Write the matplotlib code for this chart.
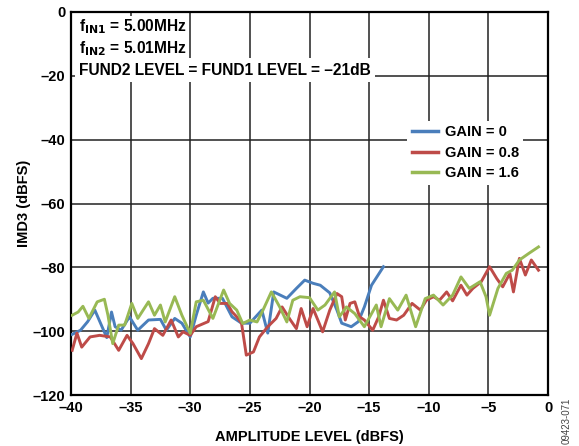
import matplotlib
matplotlib.use("Agg")
import matplotlib.pyplot as plt

plt.rcParams['font.family'] = ['Liberation Sans', 'DejaVu Sans']

# GAIN = 0
gain0_x = [-39.9, -39.2, -38.6, -38.0, -37.0, -36.6, -36.3, -35.8, -35.1, -34.4, -33.5, -32.5,
           -32.0, -31.3, -30.7, -30.0, -29.5, -28.9, -28.5, -28.1, -27.3, -26.5, -25.7, -25.0,
           -24.0, -23.5, -23.0, -21.9, -21.1, -20.4, -19.7, -19.1, -18.3, -17.7, -17.3, -16.5,
           -15.9, -15.4, -14.8, -13.8]
gain0_y = [-101.0, -99.7, -97.0, -93.4, -102.0, -94.0, -98.6, -99.7, -95.5, -99.7, -96.5, -96.3,
           -99.7, -96.0, -97.5, -101.8, -95.0, -87.7, -91.2, -89.7, -89.7, -95.5, -97.5, -97.5,
           -93.4, -100.6, -87.7, -89.7, -86.6, -84.0, -85.0, -85.6, -88.0, -93.4, -97.5, -98.6,
           -97.0, -92.4, -85.6, -79.8]

# GAIN = 0.8
gain08_x = [-39.9, -39.5, -39.1, -38.4, -37.6, -36.7, -36.0, -35.3, -34.8, -34.1, -33.5, -33.0,
            -32.3, -31.6, -31.0, -30.6, -30.0, -29.5, -28.5, -27.9, -27.5, -26.9, -26.5, -26.1,
            -25.7, -25.3, -24.7, -24.2, -23.5, -22.8, -22.3, -21.6, -21.1, -20.7, -20.2, -19.7,
            -19.3, -18.9, -18.3, -17.7, -17.3, -17.0, -16.6, -16.2, -15.8, -15.4, -14.7, -14.2,
            -13.8, -13.3, -12.7, -12.1, -11.4, -10.7, -10.2, -9.6, -9.1, -8.5, -8.0, -7.3,
            -6.8, -6.3, -5.6, -4.9, -4.3, -3.8, -3.2, -2.9, -2.4, -1.9, -1.4, -0.8]
gain08_y = [-106.0, -100.6, -105.0, -101.8, -101.3, -101.8, -106.0, -101.3, -103.9, -108.6, -103.9, -99.2,
            -101.3, -96.5, -101.8, -100.2, -101.3, -98.6, -97.0, -89.2, -91.3, -91.3, -93.9, -95.5,
            -97.5, -107.5, -106.5, -101.8, -98.6, -96.0, -92.4, -96.5, -99.2, -92.9, -98.6, -92.9,
            -96.5, -100.2, -93.4, -88.2, -89.2, -96.5, -91.3, -90.8, -95.5, -96.5, -99.7, -95.5,
            -90.3, -96.0, -96.5, -95.0, -91.3, -93.4, -90.3, -89.2, -90.3, -87.7, -90.5, -85.6,
            -88.7, -86.6, -84.5, -79.8, -83.5, -86.1, -81.9, -87.7, -77.2, -82.4, -77.7, -80.9]

# GAIN = 1.6
gain16_x = [-39.9, -39.4, -39.0, -38.5, -37.8, -37.2, -36.9, -36.5, -36.0, -35.5, -34.9, -34.4,
            -33.5, -33.0, -32.5, -32.1, -31.3, -30.7, -30.0, -29.5, -28.9, -28.1, -27.2, -26.7,
            -26.1, -25.6, -25.0, -24.4, -23.9, -23.2, -22.5, -21.9, -21.4, -20.8, -20.0, -19.3,
            -18.7, -17.9, -17.5, -16.9, -16.2, -15.4, -14.4, -14.0, -13.3, -12.6, -11.9, -11.1,
            -10.3, -9.6, -8.8, -8.0, -7.3, -6.6, -5.7, -5.2, -4.9, -4.2, -3.5, -3.0,
            -2.4, -1.6, -0.8]
gain16_y = [-95.0, -94.0, -92.2, -96.0, -90.8, -90.0, -95.0, -103.9, -98.1, -98.1, -91.3, -96.0,
            -90.8, -95.0, -91.8, -97.1, -89.2, -95.0, -100.7, -90.8, -90.3, -96.0, -87.1, -91.3,
            -93.4, -97.6, -96.5, -97.1, -93.4, -87.7, -92.4, -97.1, -90.3, -89.2, -89.5, -93.4,
            -91.8, -87.7, -95.5, -92.4, -94.5, -98.6, -91.8, -98.6, -89.8, -93.4, -88.7, -98.6,
            -89.8, -88.7, -91.8, -88.7, -83.0, -86.6, -84.5, -89.2, -95.0, -86.6, -81.9, -80.9,
            -77.7, -75.6, -73.6]

x_ticks = [-40, -35, -30, -25, -20, -15, -10, -5, 0]
y_ticks = [-120, -100, -80, -60, -40, -20, 0]

def lab(v):
    return str(v).replace('-', '\u2013')

fig = plt.figure(figsize=(5.79, 4.46), dpi=100)
ax = fig.add_axes([0.1226, 0.1143, 0.8239, 0.8588])

ax.plot(gain0_x, gain0_y, color='#4a7ebb', lw=2.1, label='GAIN = 0', zorder=3, solid_joinstyle='round')
ax.plot(gain08_x, gain08_y, color='#be4b48', lw=2.1, label='GAIN = 0.8', zorder=3, solid_joinstyle='round')
ax.plot(gain16_x, gain16_y, color='#98b954', lw=2.1, label='GAIN = 1.6', zorder=3, solid_joinstyle='round')

ax.set_xlim(-40, 0)
ax.set_ylim(-120, 0)
ax.set_xticks(x_ticks)
ax.set_yticks(y_ticks)
ax.set_xticklabels([lab(v) for v in x_ticks], fontsize=10.5, fontweight='bold')
ax.set_yticklabels([lab(v) for v in y_ticks], fontsize=10.5, fontweight='bold')
ax.tick_params(length=0, pad=4)
ax.grid(True, color='#222222', lw=1.1)
ax.set_axisbelow(True)
for s in ax.spines.values():
    s.set_linewidth(1.6)

ax.set_xlabel('AMPLITUDE LEVEL (dBFS)', fontsize=10.5, fontweight='bold', labelpad=11)
ax.set_ylabel('IMD3 (dBFS)', fontsize=10.5, fontweight='bold', labelpad=1)

# annotation block, white background hides the grid
fs = 11.2
ax.text(0.017, 0.985, r'f$_{\mathbf{IN1}}$ = 5.00MHz', transform=ax.transAxes, fontsize=fs,
        fontweight='bold', va='top', ha='left', zorder=4,
        bbox=dict(facecolor='white', edgecolor='none', pad=1))
ax.text(0.017, 0.928, r'f$_{\mathbf{IN2}}$ = 5.01MHz', transform=ax.transAxes, fontsize=fs,
        fontweight='bold', va='top', ha='left', zorder=4,
        bbox=dict(facecolor='white', edgecolor='none', pad=1))
ax.text(0.017, 0.868, 'FUND2 LEVEL = FUND1 LEVEL = \u201321dB', transform=ax.transAxes, fontsize=fs,
        fontweight='bold', va='top', ha='left', zorder=4,
        bbox=dict(facecolor='white', edgecolor='none', pad=3))

leg = ax.legend(loc='upper left', bbox_to_anchor=(0.69, 0.735), frameon=True, fancybox=False,
                edgecolor='none', framealpha=1, prop={'weight': 'bold', 'size': 10.5},
                handlelength=1.8, handletextpad=0.45, labelspacing=0.45, borderpad=0.3)
leg.set_zorder(5)
for line in leg.get_lines():
    line.set_linewidth(2.5)

fig.text(0.978, 0.005, '09423-071', rotation=90, fontsize=7, color='#444444', ha='center', va='bottom')

fig.savefig('out.png', dpi=100)
